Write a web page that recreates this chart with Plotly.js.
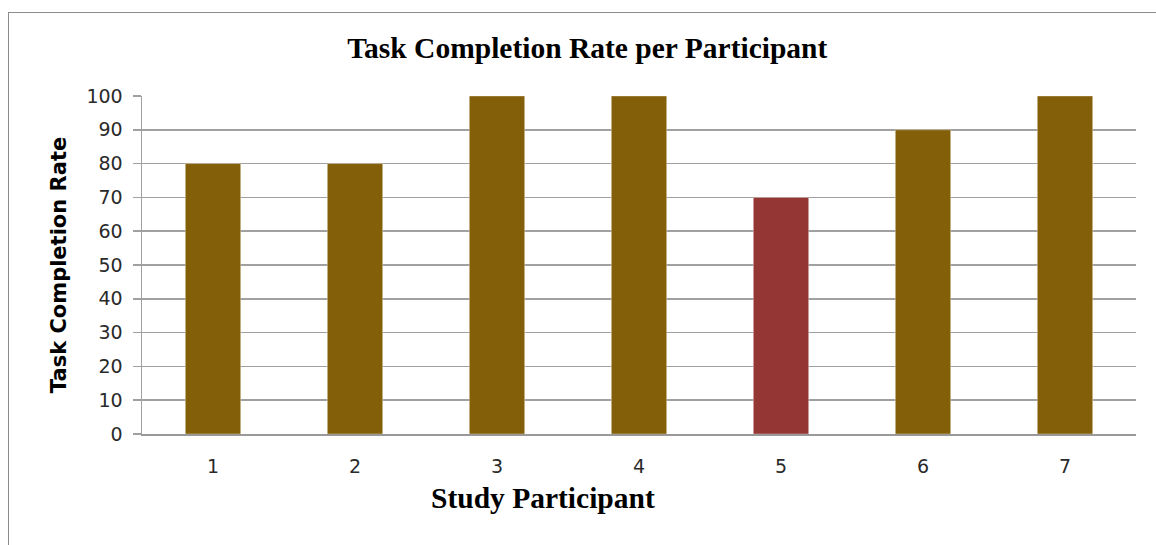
<!DOCTYPE html>
<html>
<head>
<meta charset="utf-8">
<script src="https://cdn.plot.ly/plotly-3.0.1.min.js"></script>
<style>
html,body{margin:0;padding:0;background:#fff;}
#frame{position:absolute;left:8px;top:12px;width:1200px;height:600px;border:1.5px solid #8c8c8c;box-sizing:border-box;pointer-events:none;z-index:5;}
#chart{position:absolute;left:0;top:0;width:1156px;height:545px;}
</style>
</head>
<body>
<div id="chart"></div>
<div id="frame"></div>
<script>
const participants = ['1','2','3','4','5','6','7'];
const completionRates = [80, 80, 100, 100, 70, 90, 100];
const barColors = ['#835F09','#835F09','#835F09','#835F09','#943634','#835F09','#835F09'];
const yTicks = [0,10,20,30,40,50,60,70,80,90,100];

const trace = {
  type: 'bar',
  x: participants,
  y: completionRates,
  marker: {color: barColors, line: {color: 'rgba(255,255,255,0.35)', width: 1}},
  hoverinfo: 'skip'
};

const layout = {
  width: 1156, height: 545,
  margin: {l: 142, r: 20, t: 96, b: 111},
  paper_bgcolor: '#fff', plot_bgcolor: '#fff',
  showlegend: false,
  bargap: 0.61,
  title: {
    text: '<b>Task Completion Rate per Participant</b>',
    font: {family: 'Liberation Serif', size: 29.5, color: '#000'},
    x: 0.508, xanchor: 'center', y: 0.912, yanchor: 'middle'
  },
  annotations: [{
    text: '<b>Study Participant</b>',
    xref: 'paper', yref: 'paper', x: 0.403, y: -0.188,
    xanchor: 'center', yanchor: 'middle', showarrow: false,
    font: {family: 'Liberation Serif', size: 29.5, color: '#000'}
  }],
  xaxis: {
    type: 'category',
    showgrid: false,
    showline: true, linecolor: '#999', linewidth: 1.5,
    ticks: '', ticklabelstandoff: 15,
    tickfont: {family: 'DejaVu Sans', size: 19, color: '#2a2a2a'}
  },
  yaxis: {
    range: [0, 100],
    tickvals: yTicks,
    showgrid: true, gridcolor: '#a0a0a0', gridwidth: 1.5,
    showline: true, linecolor: '#a0a0a0', linewidth: 1.5,
    ticks: 'outside', ticklen: 8, tickcolor: '#a0a0a0', tickwidth: 1.5,
    ticklabelstandoff: 6,
    zeroline: false,
    tickfont: {family: 'DejaVu Sans', size: 19, color: '#2a2a2a'},
    title: {text: '<b>Task Completion Rate</b>', font: {family: 'DejaVu Sans', size: 21, color: '#000'}, standoff: 14}
  }
};

Plotly.newPlot('chart', [trace], layout, {displayModeBar: false, staticPlot: true});
</script>
</body>
</html>
